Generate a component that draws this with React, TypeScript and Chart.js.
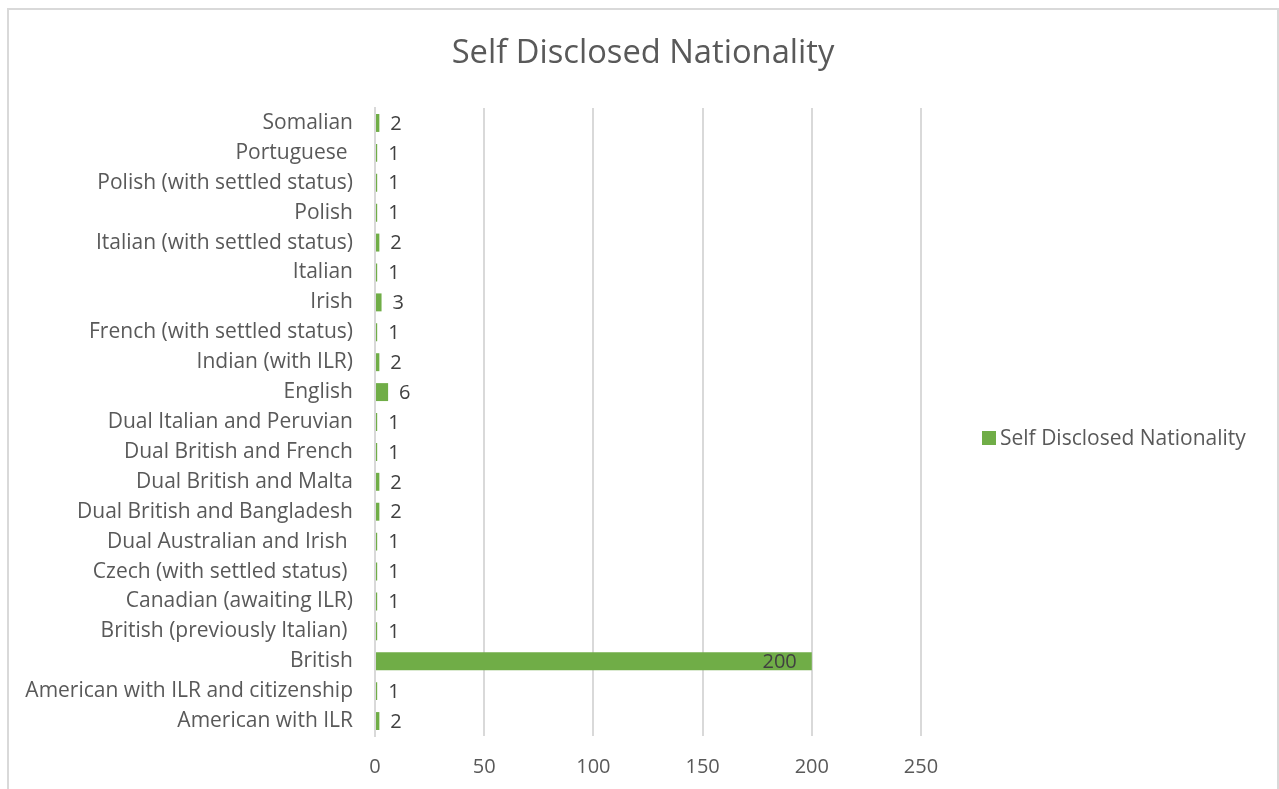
import React, { useEffect, useRef } from "react";
import { Chart, registerables } from "chart.js";

Chart.register(...registerables);

const categories: string[] = [
  "Somalian",
  "Portuguese ",
  "Polish (with settled status)",
  "Polish",
  "Italian (with settled status)",
  "Italian",
  "Irish",
  "French (with settled status)",
  "Indian (with ILR)",
  "English",
  "Dual Italian and Peruvian",
  "Dual British and French",
  "Dual British and Malta",
  "Dual British and Bangladesh",
  "Dual Australian and Irish ",
  "Czech (with settled status) ",
  "Canadian (awaiting ILR)",
  "British (previously Italian) ",
  "British",
  "American with ILR and citizenship",
  "American with ILR",
];

const counts: number[] = [2, 1, 1, 1, 2, 1, 3, 1, 2, 6, 1, 1, 2, 2, 1, 1, 1, 1, 200, 1, 2];

const xTicks: number[] = [0, 50, 100, 150, 200, 250];

const seriesName = "Self Disclosed Nationality";
const chartTitle = "Self Disclosed Nationality";

const FONT = "'Open Sans', 'Segoe UI', sans-serif";
const GREEN = "#70AD47";
const TEXT = "#595959";

const CANVAS_W = 1268;
const CANVAS_H = 790;
const AREA_LEFT = 366;
const AREA_RIGHT = 912;
const AREA_TOP = 98;
const AREA_BOTTOM = 726;

const labelPlugin = {
  id: "barLabels",
  afterDatasetsDraw(chart: any) {
    const ctx = chart.ctx;
    const meta = chart.getDatasetMeta(0);
    const data = chart.data.datasets[0].data as number[];
    ctx.save();
    ctx.font = `20px ${FONT}`;
    ctx.textBaseline = "middle";
    ctx.fillStyle = "#404040";
    meta.data.forEach((bar: any, i: number) => {
      const v = data[i];
      if (v >= 100) {
        ctx.textAlign = "right";
        ctx.fillText(String(v), bar.x - 15, bar.y + 1);
      } else {
        ctx.textAlign = "left";
        ctx.fillText(String(v), bar.x + 11, bar.y + 1);
      }
    });
    ctx.restore();
  },
};

const titleLegendPlugin = {
  id: "titleLegend",
  afterDraw(chart: any) {
    const ctx = chart.ctx;
    ctx.save();
    ctx.font = `32.7px ${FONT}`;
    ctx.fillStyle = TEXT;
    ctx.textAlign = "center";
    ctx.textBaseline = "middle";
    ctx.fillText(chartTitle, 634, 44);

    ctx.fillStyle = GREEN;
    ctx.fillRect(973, 421, 14, 14);
    ctx.font = `21px ${FONT}`;
    ctx.fillStyle = TEXT;
    ctx.textAlign = "left";
    ctx.fillText(seriesName, 991, 429);
    ctx.restore();
  },
};

export default function App() {
  const ref = useRef<HTMLCanvasElement | null>(null);

  useEffect(() => {
    if (!ref.current) return;
    const chart = new Chart(ref.current, {
      type: "bar",
      data: {
        labels: categories,
        datasets: [
          {
            label: seriesName,
            data: counts,
            backgroundColor: GREEN,
            borderWidth: 0,
            barPercentage: 0.6,
            categoryPercentage: 1,
          },
        ],
      },
      options: {
        indexAxis: "y",
        responsive: false,
        animation: false,
        layout: { padding: { left: 0, right: CANVAS_W - AREA_RIGHT, top: AREA_TOP, bottom: 0 } },
        plugins: {
          legend: { display: false },
          tooltip: { enabled: false },
          title: { display: false },
        },
        scales: {
          x: {
            min: 0,
            max: 250,
            afterBuildTicks(scale: any) {
              scale.ticks = xTicks.map((v) => ({ value: v }));
            },
            afterFit(scale: any) {
              scale.height = CANVAS_H - AREA_BOTTOM;
            },
            grid: { color: "#d9d9d9", lineWidth: 2, drawTicks: false },
            border: { display: false },
            ticks: {
              color: TEXT,
              padding: 19,
              font: { family: FONT, size: 20 },
            },
          },
          y: {
            afterFit(scale: any) {
              scale.width = AREA_LEFT;
            },
            grid: { display: false, drawTicks: false },
            border: { display: true, color: "#d9d9d9", width: 2 },
            ticks: {
              color: TEXT,
              padding: 22,
              autoSkip: false,
              font: { family: FONT, size: 21 },
            },
          },
        },
      },
      plugins: [labelPlugin, titleLegendPlugin],
    });
    return () => chart.destroy();
  }, []);

  return (
    <div
      style={{
        position: "absolute",
        left: 7,
        top: 8,
        width: CANVAS_W,
        height: CANVAS_H,
        border: "2px solid #d9d9d9",
        background: "#fff",
      }}
    >
      <canvas ref={ref} width={CANVAS_W} height={CANVAS_H} style={{ display: "block" }} />
    </div>
  );
}
